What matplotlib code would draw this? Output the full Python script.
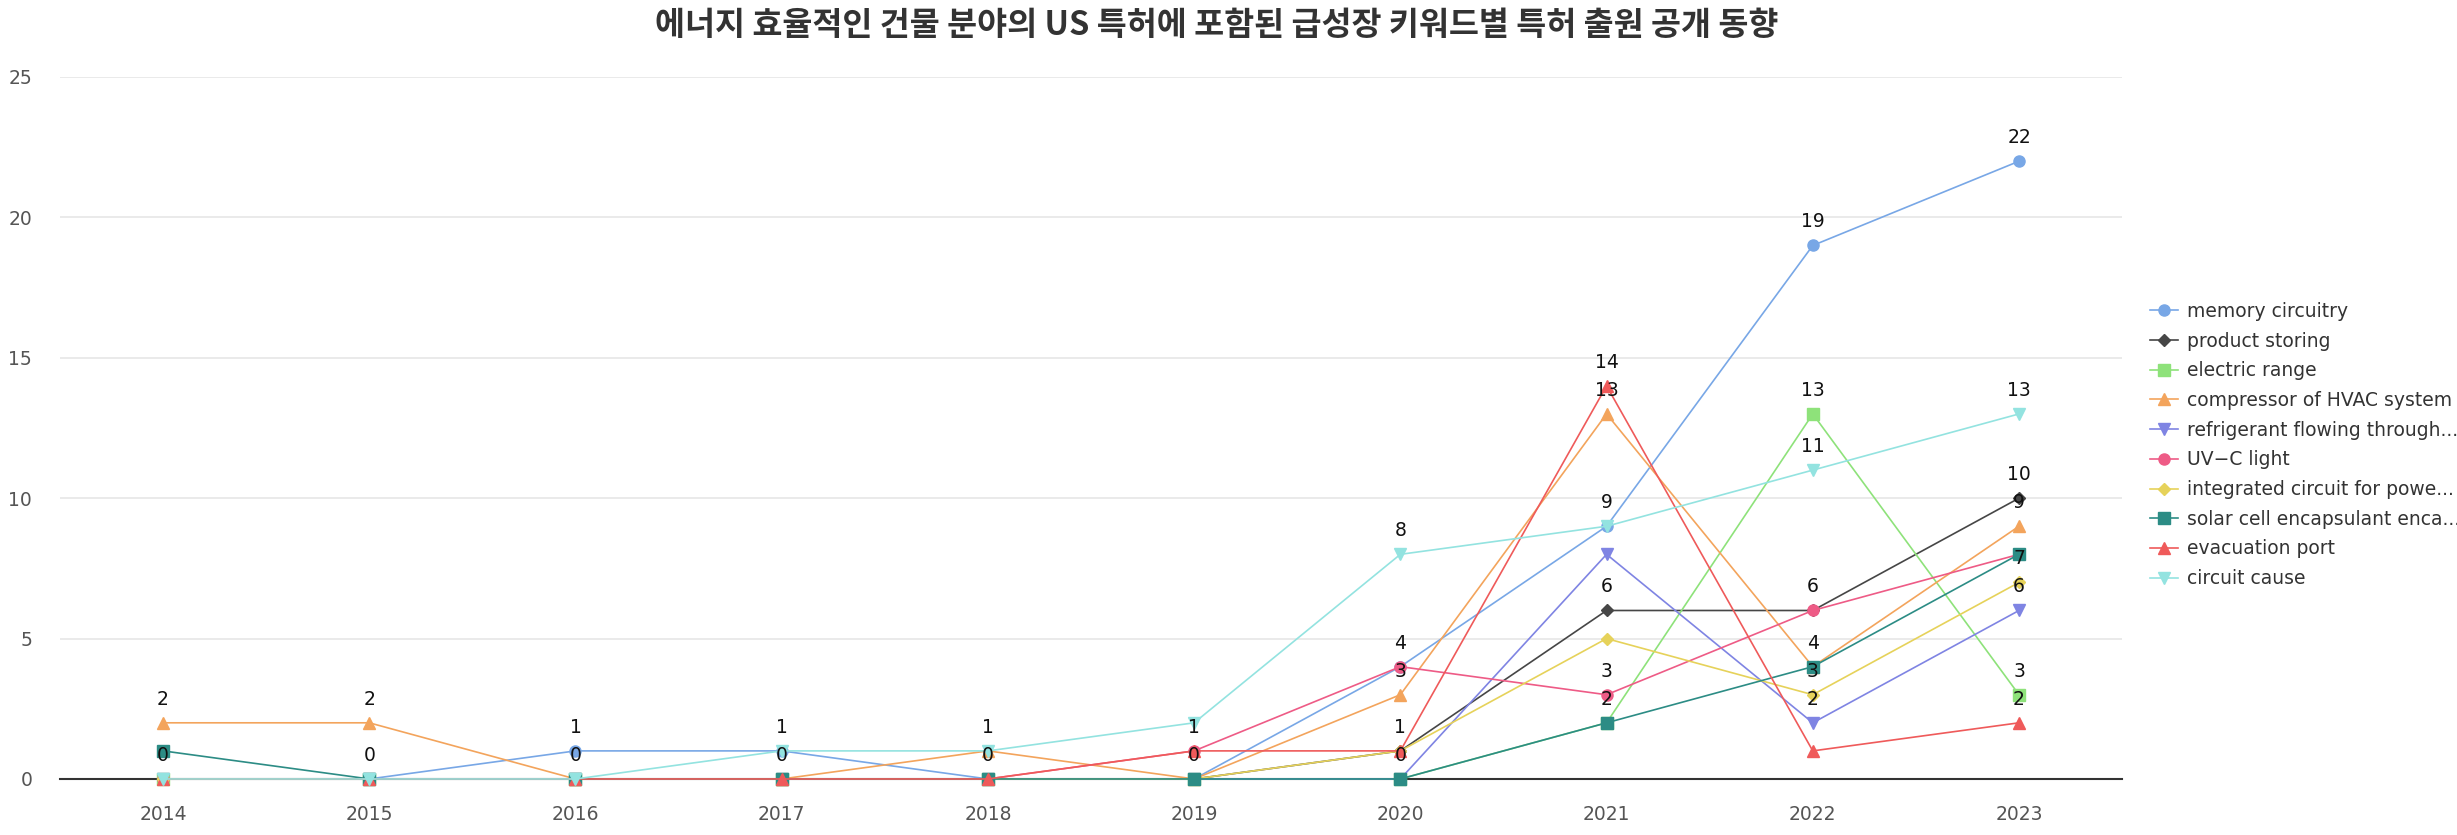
import matplotlib
matplotlib.use("Agg")
import matplotlib.pyplot as plt

years = ["2014", "2015", "2016", "2017", "2018", "2019", "2020", "2021", "2022", "2023"]

memory_circuitry = [0, 0, 1, 1, 0, 0, 4, 9, 19, 22]
product_storing = [0, 0, 0, 0, 0, 0, 1, 6, 6, 10]
electric_range = [0, 0, 0, 0, 0, 0, 0, 2, 13, 3]
compressor_hvac = [2, 2, 0, 0, 1, 0, 3, 13, 4, 9]
refrigerant_flowing = [0, 0, 0, 0, 0, 0, 0, 8, 2, 6]
uv_c_light = [0, 0, 0, 0, 0, 1, 4, 3, 6, 8]
integrated_circuit = [0, 0, 0, 0, 0, 0, 1, 5, 3, 7]
solar_cell = [1, 0, 0, 0, 0, 0, 0, 2, 4, 8]
evacuation_port = [0, 0, 0, 0, 0, 1, 1, 14, 1, 2]
circuit_cause = [0, 0, 0, 1, 1, 2, 8, 9, 11, 13]

series = [
    ("memory circuitry", memory_circuitry, "#78a7e6", "o"),
    ("product storing", product_storing, "#464646", "D"),
    ("electric range", electric_range, "#8ee27a", "s"),
    ("compressor of HVAC system", compressor_hvac, "#f3a45c", "^"),
    ("refrigerant flowing through...", refrigerant_flowing, "#7f84e3", "v"),
    ("UV\u2212C light", uv_c_light, "#ee5b86", "o"),
    ("integrated circuit for powe...", integrated_circuit, "#e6d25a", "D"),
    ("solar cell encapsulant enca...", solar_cell, "#2c8c85", "s"),
    ("evacuation port", evacuation_port, "#ef5a5a", "^"),
    ("circuit cause", circuit_cause, "#93e3e0", "v"),
]

# value labels that survive the overlap hiding, per year
label_values = [
    [2, 0], [2, 0], [1, 0], [1, 0], [1, 0], [1, 0],
    [8, 4, 3, 1, 0],
    [14, 13, 9, 6, 3, 2],
    [19, 13, 11, 6, 4, 3, 2],
    [22, 13, 10, 9, 7, 6, 3, 2],
]

title = "에너지 효율적인 건물 분야의 US 특허에 포함된 급성장 키워드별 특허 출원 공개 동향"

fig = plt.figure(figsize=(24.57, 8.35), dpi=100)
ax = fig.add_axes([0.0244, 0.0671, 0.8393, 0.8407])

x = list(range(len(years)))
for name, vals, color, marker in series:
    ms = 6 if marker == "D" else 8
    ax.plot(x, vals, color=color, marker=marker, markersize=ms, linewidth=1.2,
            label=name, clip_on=False, zorder=3)

for i, vals in enumerate(label_values):
    for v in vals:
        ax.annotate(str(v), (i, v), xytext=(0, 17), textcoords="offset points",
                    ha="center", va="center", fontsize=13.5, color="#111111",
                    zorder=5, annotation_clip=False)

ax.set_xlim(-0.5, len(years) - 0.5)
ax.set_ylim(0, 25)
ax.set_yticks([0, 5, 10, 15, 20, 25])
ax.set_xticks(x)
ax.set_xticklabels(years)
ax.tick_params(axis="both", length=0, labelsize=13.5, colors="#555555")
ax.tick_params(axis="y", pad=20)
ax.tick_params(axis="x", pad=19)
ax.grid(axis="y", color="#e6e6e6", linewidth=1.2)
ax.set_axisbelow(True)
for s in ["top", "right", "left"]:
    ax.spines[s].set_visible(False)
ax.spines["bottom"].set_color("#333333")
ax.spines["bottom"].set_linewidth(1.5)
ax.spines["bottom"].set_zorder(2)

fig.text(0.495, 0.97, title, ha="center", va="center", fontsize=23.5,
         fontweight="bold", color="#333333", family=["Noto Sans CJK KR", "DejaVu Sans"])

fig.legend(loc="center left", bbox_to_anchor=(0.872, 0.467), frameon=False,
           fontsize=13.5, handlelength=1.5, handletextpad=0.45, labelspacing=0.57,
           labelcolor="#333333", borderaxespad=0)

fig.savefig("out.png", dpi=100)
